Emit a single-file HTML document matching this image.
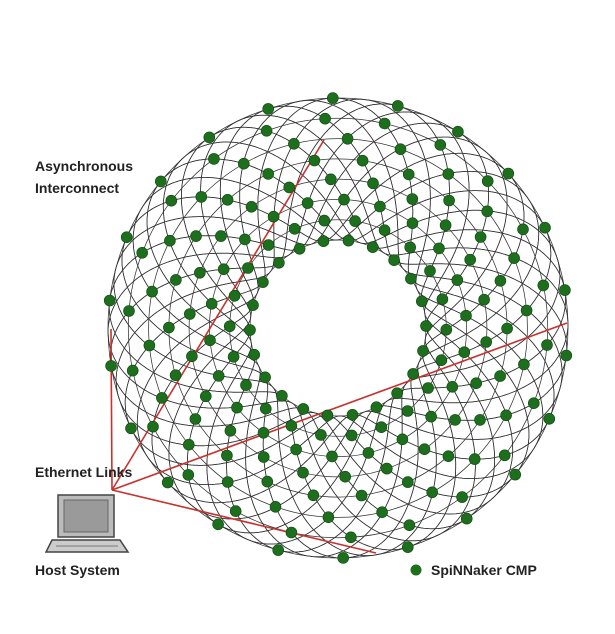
<!DOCTYPE html>
<html><head><meta charset="utf-8"><style>
html,body{margin:0;padding:0;background:#fff}
svg{display:block}
text{font-family:"Liberation Sans",sans-serif;font-weight:bold;font-size:14px;fill:#222}
</style></head><body>
<svg id="s" width="615" height="634" viewBox="0 0 615 634" xmlns="http://www.w3.org/2000/svg">
<g id="lines" fill="none" stroke="#333" stroke-width="0.75"></g>
<g id="red" stroke="#c8322e" stroke-width="1.6">
<line x1="112" y1="490" x2="111" y2="329"/>
<line x1="112" y1="490" x2="324" y2="140"/>
<line x1="112" y1="490" x2="567" y2="323"/>
<line x1="112" y1="490" x2="376" y2="553"/>
</g>
<g id="dots" fill="#1d6e1d" stroke="#0f4a0f" stroke-width="0.6"></g>
<text x="35" y="171">Asynchronous</text>
<text x="35" y="193">Interconnect</text>
<text x="35" y="477">Ethernet Links</text>
<text x="35" y="575">Host System</text>
<circle cx="416" cy="570" r="5.5" fill="#1d6e1d"/>
<text x="431" y="575">SpiNNaker CMP</text>
<rect x="58" y="495" width="56" height="42" fill="#bbb" stroke="#444" stroke-width="1.5"/>
<rect x="64" y="500" width="44" height="32" fill="#9a9a9a" stroke="#666"/>
<polygon points="52,540 120,540 128,552 46,552" fill="#ccc" stroke="#444" stroke-width="1.5"/>
<line x1="56" y1="546" x2="118" y2="546" stroke="#777"/>
</svg>
<script>
(function(){
var cx=338,cy=328,R=159,r=71,N=22,M=8;
var du=2*Math.PI/N, step=du*0.5, dv=Math.PI/(M-1);
function P(u,v){var rad=R+r*Math.cos(v);return [cx+rad*Math.cos(u), cy+rad*Math.sin(u)];}
var L=document.getElementById('lines'),D=document.getElementById('dots'),ns="http://www.w3.org/2000/svg";
var u0=0.12;
function path(d){var e=document.createElementNS(ns,'path');e.setAttribute('d',d);L.appendChild(e);}
for(var s=-1;s<=1;s+=2){
 for(var i=0;i<2*N;i++){
  var d="";
  for(var k=0;k<=200;k++){var v=2*Math.PI*k/200;var u=u0+i*du/2+s*step*v/dv;var p=P(u,v);
   d+=(k?"L":"M")+p[0].toFixed(1)+","+p[1].toFixed(1);}
  path(d);
 }
}
var vs=[];
for(var j=0;j<M;j++){vs.push(Math.acos(1-2*j/(M-1)));}
for(var j=0;j<M;j++){
 var rad=R+r*Math.cos(vs[j]);
 var c=document.createElementNS(ns,'circle');c.setAttribute('cx',cx);c.setAttribute('cy',cy);c.setAttribute('r',rad.toFixed(1));L.appendChild(c);
}
for(var i=0;i<N;i++)for(var j=0;j<M;j++){
 var v=vs[j],u=u0+i*du+step*v/dv;var p=P(u,v);
 var e=document.createElementNS(ns,'circle');e.setAttribute('cx',p[0].toFixed(1));e.setAttribute('cy',p[1].toFixed(1));e.setAttribute('r','5.5');D.appendChild(e);}
})();
</script>
</body></html>
